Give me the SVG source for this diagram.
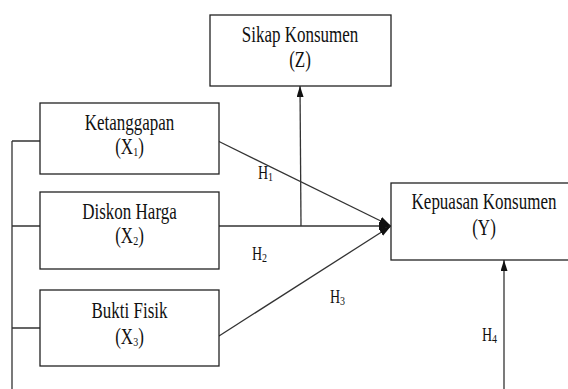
<svg xmlns="http://www.w3.org/2000/svg" width="568" height="389" viewBox="0 0 568 389">
<defs>
<marker id="ah" viewBox="0 0 12 8" refX="12" refY="4" markerWidth="12" markerHeight="8" markerUnits="userSpaceOnUse" orient="auto">
<path d="M0,0 L12,4 L0,8 Z" fill="#111"/>
</marker>
<marker id="ahs" viewBox="0 0 11 7" refX="11" refY="3.5" markerWidth="11" markerHeight="7" markerUnits="userSpaceOnUse" orient="auto">
<path d="M0,0 L11,3.5 L0,7 Z" fill="#111"/>
</marker>
</defs>
<style>
.box{fill:#fff;stroke:#222;stroke-width:1.3}
.ln{fill:none;stroke:#333;stroke-width:1.3}
.t{font-family:"Liberation Serif","Times New Roman",serif;font-size:17px;fill:#111;text-anchor:middle}
.h{font-family:"Liberation Serif","Times New Roman",serif;font-size:14px;fill:#111}
.sub{font-size:10px}
</style>
<rect width="568" height="389" fill="#fff"/>
<g id="connectors">
<path class="ln" d="M12,141 V389 M12,141 H40 M12,226 H40 M12,328 H40"/>
<line class="ln" x1="219" y1="141.5" x2="391" y2="226" marker-end="url(#ah)"/>
<line class="ln" x1="219" y1="226" x2="391" y2="226" marker-end="url(#ah)"/>
<line class="ln" x1="219" y1="336" x2="391" y2="226" marker-end="url(#ah)"/>
<line class="ln" x1="301" y1="226" x2="300" y2="86" marker-end="url(#ahs)"/>
<line class="ln" x1="504" y1="389" x2="504" y2="260" marker-end="url(#ahs)"/>
<text class="h" transform="translate(258,179) scale(1,1.3)">H<tspan class="sub" dy="1.5">1</tspan></text>
<text class="h" transform="translate(252,260) scale(1,1.3)">H<tspan class="sub" dy="1.5">2</tspan></text>
<text class="h" transform="translate(330,303) scale(1,1.3)">H<tspan class="sub" dy="1.5">3</tspan></text>
<text class="h" transform="translate(482,341) scale(1,1.3)">H<tspan class="sub" dy="1.5">4</tspan></text>
</g>
<g id="sikap">
<rect class="box" x="210" y="15" width="181" height="71"/>
<text class="t" transform="translate(300,42) scale(1,1.3)">Sikap Konsumen</text>
<text class="t" transform="translate(300,66.5) scale(1,1.3)">(Z)</text>
</g>
<g id="ketanggapan">
<rect class="box" x="40" y="103" width="179" height="71"/>
<text class="t" transform="translate(129.5,130) scale(1,1.3)">Ketanggapan</text>
<text class="t" transform="translate(129.5,154) scale(1,1.3)">(X<tspan class="sub" dy="1.5">1</tspan><tspan dy="-1.5">)</tspan></text>
</g>
<g id="diskon">
<rect class="box" x="40" y="192" width="179" height="77"/>
<text class="t" transform="translate(129.5,218.5) scale(1,1.3)">Diskon Harga</text>
<text class="t" transform="translate(129.5,243) scale(1,1.3)">(X<tspan class="sub" dy="1.5">2</tspan><tspan dy="-1.5">)</tspan></text>
</g>
<g id="bukti">
<rect class="box" x="40" y="290" width="179" height="76"/>
<text class="t" transform="translate(129.5,317.5) scale(1,1.3)">Bukti Fisik</text>
<text class="t" transform="translate(129.5,344) scale(1,1.3)">(X<tspan class="sub" dy="1.5">3</tspan><tspan dy="-1.5">)</tspan></text>
</g>
<g id="kepuasan">
<rect class="box" x="391" y="183" width="185" height="77"/>
<text class="t" transform="translate(484,208.5) scale(1,1.3)">Kepuasan Konsumen</text>
<text class="t" transform="translate(484,235) scale(1,1.3)">(Y)</text>
</g>
</svg>
